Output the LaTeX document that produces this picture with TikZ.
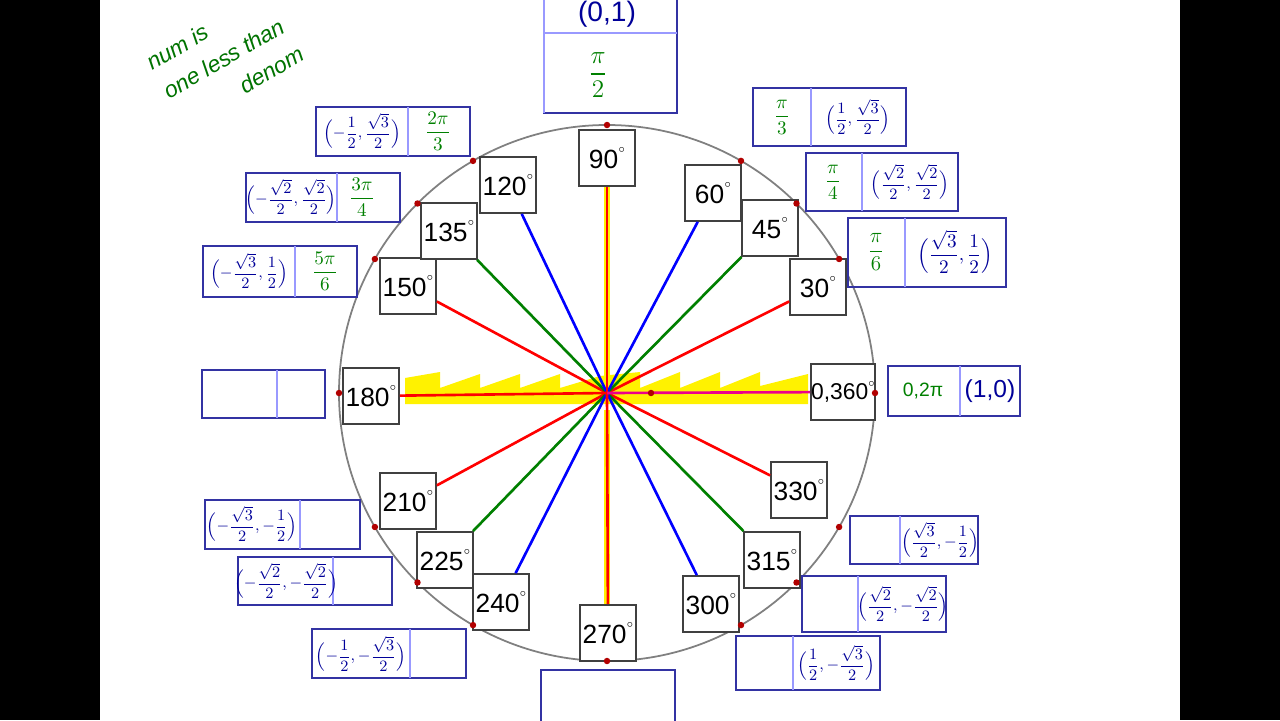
\documentclass[tikz,border=0pt]{standalone}
\usepackage{amsmath}
\usepackage{fontspec}
\setmainfont{Liberation Sans}
\usetikzlibrary{calc}
\newcommand{\dg}{\raisebox{1.1ex}{\fontsize{6}{6}\selectfont$\circ$}}
\begin{document}
\begin{tikzpicture}[x=0.02cm,y=-0.02cm,
  abox/.style={draw=black!75,line width=1pt,fill=white,minimum width=1.12cm,minimum height=1.12cm,inner sep=0pt,font=\fontsize{15}{17}\selectfont},
  obox/.style={draw=blue!55!black!80,line width=1pt},
  coord/.style={text=blue!60!black,font=\fontsize{9.5}{11}\selectfont,inner sep=1pt},
  rad/.style={text=green!50!black,font=\fontsize{11}{13}\selectfont,inner sep=1pt},
  dot/.style={circle,fill=red!70!black,inner sep=1.3pt}]
\useasboundingbox (0,0) rectangle (1280,720);
\fill[white] (0,0) rectangle (1280,720);
\fill[black] (0,0) rectangle (100,720);
\fill[black] (1180,0) rectangle (1280,720);
\coordinate (c) at (607,393);
\draw[gray,line width=1pt] (c) circle[x radius=268,y radius=-268];
% yellow highlights
\fill[yellow] (405,378) -- (440,372) -- (440,388) -- (480,374) -- (480,388) -- (520,374) -- (520,388) -- (560,374) -- (560,388) -- (600,376) -- (640,372) -- (640,388) -- (680,372) -- (680,388) -- (720,372) -- (720,388) -- (760,372) -- (760,386) -- (808,374) -- (808,404) -- (405,404) -- cycle;
\draw[yellow,line width=3pt] (607,186) -- (607,380);
\draw[yellow,line width=3pt] (607,410) -- (607,606);
% angle boxes
\node[abox] (a90) at (607,158) {90\dg};
\node[abox] (a60) at (713,193) {60\dg};
\node[abox] (a45) at (770,228) {45\dg};
\node[abox] (a30) at (818,287) {30\dg};
\node[abox,font=\fontsize{13}{15}\selectfont] (a0) at (843,392) {0,360\dg};
\node[abox] (a330) at (799,490) {330\dg};
\node[abox] (a315) at (772,560) {315\dg};
\node[abox] (a300) at (711,604) {300\dg};
\node[abox] (a270) at (608,633) {270\dg};
\node[abox] (a240) at (501,602) {240\dg};
\node[abox] (a225) at (445,560) {225\dg};
\node[abox] (a210) at (408,501) {210\dg};
\node[abox] (a180) at (371,396) {180\dg};
\node[abox] (a150) at (408,286) {150\dg};
\node[abox] (a135) at (449,231) {135\dg};
\node[abox] (a120) at (508,185) {120\dg};
% rays
\begin{scope}[line width=1.5pt]
\foreach \n in {a30,a150,a210,a330} \draw[red] (c) -- (\n);
\foreach \n in {a45,a135,a225,a315} \draw[green!50!black] (c) -- (\n);
\foreach \n in {a60,a120,a240,a300} \draw[blue] (c) -- (\n);
\draw[red] (c) -- (a90); \draw[red] (c) -- (a270);
\draw[magenta] (c) -- (a0); \draw[red] (c) -- (a180);
\end{scope}
\foreach \a in {0,30,45,60,90,120,135,150,180,210,225,240,270,300,315,330}
  \node[dot] at ($(c)+(\a:268 and -268)$) {};
\node[dot] at (651,393) {};
% outer boxes
\newcommand{\obx}[5]{\draw[obox] (#1,#2) rectangle (#3,#4); \draw[blue!40,line width=0.6pt] (#5,#2) -- (#5,#4);}
\obx{753}{88}{906}{146}{811}
\node[rad] (r60) at (782,117) {$\dfrac{\pi}{3}$};
\node[coord] (c60) at (858,117) {$\Bigl(\dfrac12,\dfrac{\sqrt3}{2}\Bigr)$};
\obx{806}{153}{958}{211}{862}
\node[rad] (r45) at (833,182) {$\dfrac{\pi}{4}$};
\node[coord] (c45) at (910,182) {$\Bigl(\dfrac{\sqrt2}{2},\dfrac{\sqrt2}{2}\Bigr)$};
\obx{848}{218}{1006}{287}{905}
\node[rad,font=\fontsize{13}{15}\selectfont] (r30) at (876,252) {$\dfrac{\pi}{6}$};
\node[coord,font=\fontsize{11}{13}\selectfont] (c30) at (955,252) {$\Bigl(\dfrac{\sqrt3}{2},\dfrac12\Bigr)$};
\obx{888}{366}{1020}{416}{960}
\node[rad] (r0) at (923,391) {0,2π};
\node[coord,font=\fontsize{14}{16}\selectfont] (c0) at (990,391) {(1,0)};
\obx{544}{-2}{677}{113}{544}
\draw[blue!40,line width=0.6pt] (544,33) -- (677,33);
\node[coord,font=\fontsize{16}{18}\selectfont] (c90) at (607,14) {(0,1)};
\node[rad,font=\fontsize{14}{16}\selectfont] (r90) at (598,75) {$\dfrac{\pi}{2}$};
\obx{850}{516}{978}{564}{900}
\node[coord] (c330) at (940,540) {$\Bigl(\dfrac{\sqrt3}{2},-\dfrac12\Bigr)$};
\obx{802}{576}{946}{632}{858}
\node[coord] (c315) at (903,604) {$\Bigl(\dfrac{\sqrt2}{2},-\dfrac{\sqrt2}{2}\Bigr)$};
\obx{736}{636}{880}{690}{793}
\node[coord] (c300) at (836,663) {$\Bigl(\dfrac12,-\dfrac{\sqrt3}{2}\Bigr)$};
\draw[obox] (541,670) rectangle (675,722);
\obx{316}{107}{470}{156}{408}
\node[coord] (c120) at (362,131) {$\Bigl(-\dfrac12,\dfrac{\sqrt3}{2}\Bigr)$};
\node[rad] (r120) at (438,131) {$\dfrac{2\pi}{3}$};
\obx{246}{173}{400}{222}{337}
\node[coord] (c135) at (291,197) {$\Bigl(-\dfrac{\sqrt2}{2},\dfrac{\sqrt2}{2}\Bigr)$};
\node[rad] (r135) at (362,197) {$\dfrac{3\pi}{4}$};
\obx{203}{246}{357}{297}{295}
\node[coord] (c150) at (249,271) {$\Bigl(-\dfrac{\sqrt3}{2},\dfrac12\Bigr)$};
\node[rad] (r150) at (325,271) {$\dfrac{5\pi}{6}$};
\obx{202}{370}{325}{418}{277}
\obx{205}{500}{360}{549}{300}
\node[coord] (c210) at (252,524) {$\Bigl(-\dfrac{\sqrt3}{2},-\dfrac12\Bigr)$};
\obx{238}{557}{392}{605}{333}
\node[coord] (c225) at (286,581) {$\Bigl(-\dfrac{\sqrt2}{2},-\dfrac{\sqrt2}{2}\Bigr)$};
\obx{312}{629}{466}{678}{410}
\node[coord] (c240) at (361,654) {$\Bigl(-\dfrac12,-\dfrac{\sqrt3}{2}\Bigr)$};
% note
\node[text=green!45!black,rotate=30,align=left,font=\fontsize{13}{19}\itshape\selectfont,inner sep=0pt] (note) at (225,58) {num is\\one less than\\\hspace*{3em}denom};
\end{tikzpicture}
\end{document}
